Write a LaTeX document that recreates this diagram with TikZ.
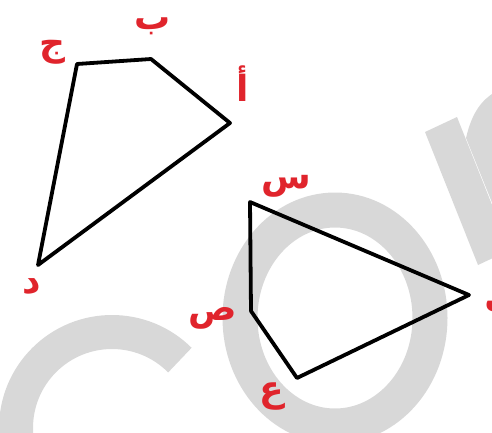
\documentclass[tikz,border=0pt]{standalone}
\usepackage{fontspec}
\newfontfamily\arabicfont[Script=Arabic]{DejaVu Sans}
\TeXXeTstate=1
\definecolor{lbl}{HTML}{E0242C}
\definecolor{wm}{HTML}{D8D8D8}
\begin{document}
\begin{tikzpicture}[x=1pt,y=-1pt,
  lab/.style={text=lbl,font=\arabicfont\bfseries\fontsize{36}{40}\selectfont,inner sep=0pt},
  edge/.style={line width=3.8pt,line join=round,draw=black}]
\useasboundingbox (0,0) rectangle (492,432);
\clip (0,0) rectangle (492,432);
% watermark
\draw[wm,line width=34pt] (112,428) ++(-45:96) arc[start angle=-45,end angle=-270,radius=96];
\draw[wm,line width=35pt] (335,318) ellipse[x radius=95,y radius=108];
\fill[wm] (425,132) -- (457,117) -- (510,250) -- (478,265) -- cycle;
\fill[wm] (466,138) .. controls (472,112) and (482,100) .. (495,92) -- (495,210) -- cycle;
% quadrilateral 1
\coordinate (j) at (77,64);
\coordinate (b) at (151,59);
\coordinate (a) at (230,123);
\coordinate (d) at (38,265);
\draw[edge] (j) -- (b) -- (a) -- (d) -- cycle;
% quadrilateral 2
\coordinate (s) at (250,202);
\coordinate (l) at (469,295);
\coordinate (ain) at (297,378);
\coordinate (sad) at (251,311);
\draw[edge] (s) -- (l) -- (ain) -- (sad) -- cycle;
% labels
\node[lab] (tj) at (52,52) {\beginR ج\endR};
\node[lab] (tb) at (153,26) {\beginR ب\endR};
\node[lab] (ta) at (243,84) {\beginR أ\endR};
\node[lab] (td) at (32,287) {\beginR د\endR};
\node[lab] (ts) at (286,186) {\beginR س\endR};
\node[lab] (tsad) at (213,318) {\beginR ص\endR};
\node[lab] (tain) at (272,396) {\beginR ع\endR};
\node[lab] (tl) at (500,296) {\beginR ل\endR};
\end{tikzpicture}
\end{document}
